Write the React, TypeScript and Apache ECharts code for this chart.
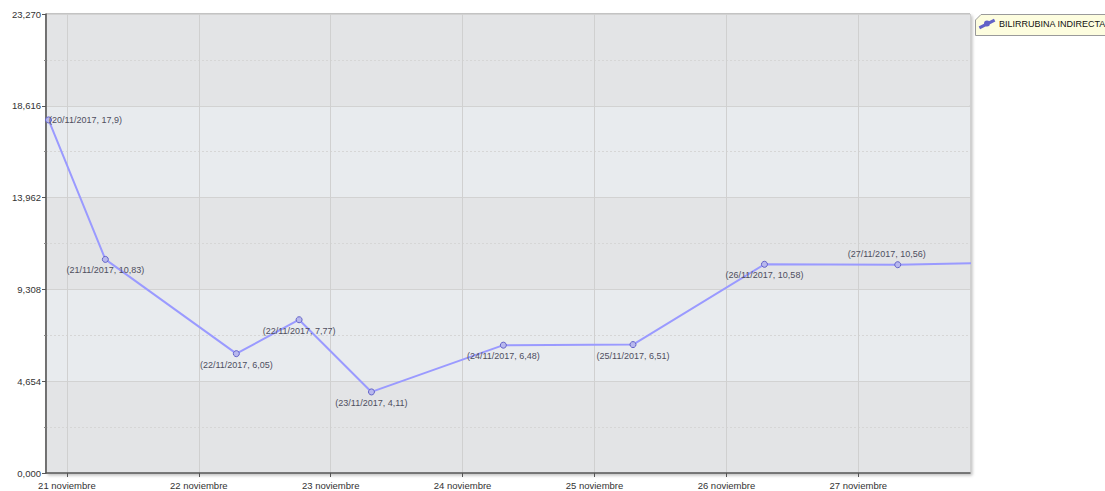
import React, { useEffect, useRef } from 'react';
import * as echarts from 'echarts';

// ---- data ----
const seriesName = 'BILIRRUBINA INDIRECTA';
const times = [
  '2017-11-20 20:40',
  '2017-11-21 07:00',
  '2017-11-22 06:50',
  '2017-11-22 18:15',
  '2017-11-23 07:25',
  '2017-11-24 07:25',
  '2017-11-25 07:00',
  '2017-11-26 06:55',
  '2017-11-27 07:10',
  '2017-11-28 07:00',
];
const values = [17.9, 10.83, 6.05, 7.77, 4.11, 6.48, 6.51, 10.58, 10.56, 10.7];
const labelled = [true, true, true, true, true, true, true, true, true, false];
const yTicks = [0, 4.654, 9.308, 13.962, 18.616, 23.27];
const xRange = ['2017-11-20 20:12', '2017-11-27 20:19'];
const monthName = 'noviembre';

// label placement (style, not data)
const labelPositions = ['right', 'bottom', 'bottom', 'bottom', 'bottom', 'bottom', 'bottom', 'bottom', 'top', 'bottom'];

const FONT = "'Liberation Sans', Arial, sans-serif";

const toMs = (s: string) => {
  const [d, t] = s.split(' ');
  const [y, m, dd] = d.split('-').map(Number);
  const [h, mi] = t.split(':').map(Number);
  return new Date(y, m - 1, dd, h, mi).getTime();
};
const pad = (n: number) => (n < 10 ? '0' + n : '' + n);
const fmtDate = (ms: number) => {
  const d = new Date(ms);
  return `${pad(d.getDate())}/${pad(d.getMonth() + 1)}/${d.getFullYear()}`;
};
const fmtNum = (v: number) => String(v).replace('.', ',');

export default function App() {
  const ref = useRef<HTMLDivElement>(null);
  useEffect(() => {
    document.body.style.margin = '0';
    if (!ref.current) return;
    const chart = echarts.init(ref.current, null, { renderer: 'svg' });

    const data = times.map((t, i) => {
      const pos = labelPositions[i];
      const label: any = {
        show: labelled[i],
        position: pos,
        distance: pos === 'right' ? -3 : 3,
      };
      if (i === 8) label.offset = [-11, 0];
      return {
        value: [toMs(t), values[i]],
        symbol: labelled[i] ? 'circle' : 'none',
        label,
      };
    });

    chart.setOption({
      animation: false,
      backgroundColor: '#ffffff',
      grid: {
        left: 46,
        right: 135,
        top: 14,
        bottom: 18,
        show: true,
        borderColor: '#8a8a8a',
        borderWidth: 1,
        backgroundColor: '#e3e4e6',
        shadowColor: 'rgba(0,0,0,0.25)',
        shadowBlur: 3,
        shadowOffsetX: 2,
        shadowOffsetY: 2,
      },
      legend: {
        left: 979,
        top: 19,
        itemWidth: 14,
        itemHeight: 9,
        icon: 'path://M0,8.6 L13.5,1.6 L14,2.6 L0.5,9.6 Z M5,5.1 a2,2 0 1,0 4,0 a2,2 0 1,0 -4,0 Z',
        textStyle: { fontFamily: FONT, fontSize: 9, color: '#111' },
        itemGap: 4,
        padding: 0,
        data: [seriesName],
      },
      graphic: [
        {
          type: 'polygon',
          z: -1,
          shape: {
            points: [
              [981, 14.5],
              [1110, 14.5],
              [1110, 35.5],
              [975.5, 35.5],
              [975.5, 20],
            ],
          },
          style: { fill: '#fdfddf', stroke: '#9a9a9a', lineWidth: 1 },
        },
      ],
      xAxis: {
        type: 'time',
        min: toMs(xRange[0]),
        max: toMs(xRange[1]),
        splitNumber: 7,
        axisLine: { show: true, lineStyle: { color: '#555', width: 1.5 } },
        axisTick: { show: true, length: 4, lineStyle: { color: '#555' } },
        splitLine: { show: true, lineStyle: { color: '#d0d0d0', width: 1 } },
        axisLabel: {
          color: '#333',
          fontSize: 9.5,
          fontFamily: FONT,
          margin: 7,
          showMinLabel: false,
          showMaxLabel: false,
          formatter: (v: number) => {
            const d = new Date(v);
            if (d.getHours() !== 0 || d.getMinutes() !== 0) return '';
            return `${d.getDate()} ${monthName}`;
          },
        },
      },
      yAxis: {
        type: 'value',
        min: yTicks[0],
        max: yTicks[yTicks.length - 1],
        interval: yTicks[1] - yTicks[0],
        axisLine: { show: true, lineStyle: { color: '#555', width: 1.5 } },
        axisTick: { show: true, length: 4, lineStyle: { color: '#555' } },
        minorTick: { show: true, splitNumber: 2, length: 2, lineStyle: { color: '#888' } },
        splitLine: { show: true, lineStyle: { color: '#d2d2d2', width: 1 } },
        minorSplitLine: { show: true, lineStyle: { color: '#d6d6d6', type: [2, 2] } },
        splitArea: { show: true, areaStyle: { color: ['#e3e4e6', '#e8ebee'] } },
        axisLabel: {
          color: '#333',
          fontSize: 9.5,
          fontFamily: FONT,
          margin: 5,
          formatter: (v: number) => v.toFixed(3).replace('.', ','),
        },
      },
      series: [
        {
          name: seriesName,
          type: 'line',
          data,
          showAllSymbol: true,
          symbolSize: 6,
          clip: true,
          lineStyle: { color: '#9a9aff', width: 2 },
          itemStyle: { color: '#b8b8ee', borderColor: '#6262c8', borderWidth: 1 },
          label: {
            color: '#4e4e5e',
            fontSize: 9,
            fontFamily: FONT,
            formatter: (p: any) => `(${fmtDate(p.value[0])}, ${fmtNum(p.value[1])})`,
          },
          emphasis: { disabled: true },
        },
      ],
    });
    return () => chart.dispose();
  }, []);
  return <div ref={ref} style={{ width: 1105, height: 491 }} />;
}
